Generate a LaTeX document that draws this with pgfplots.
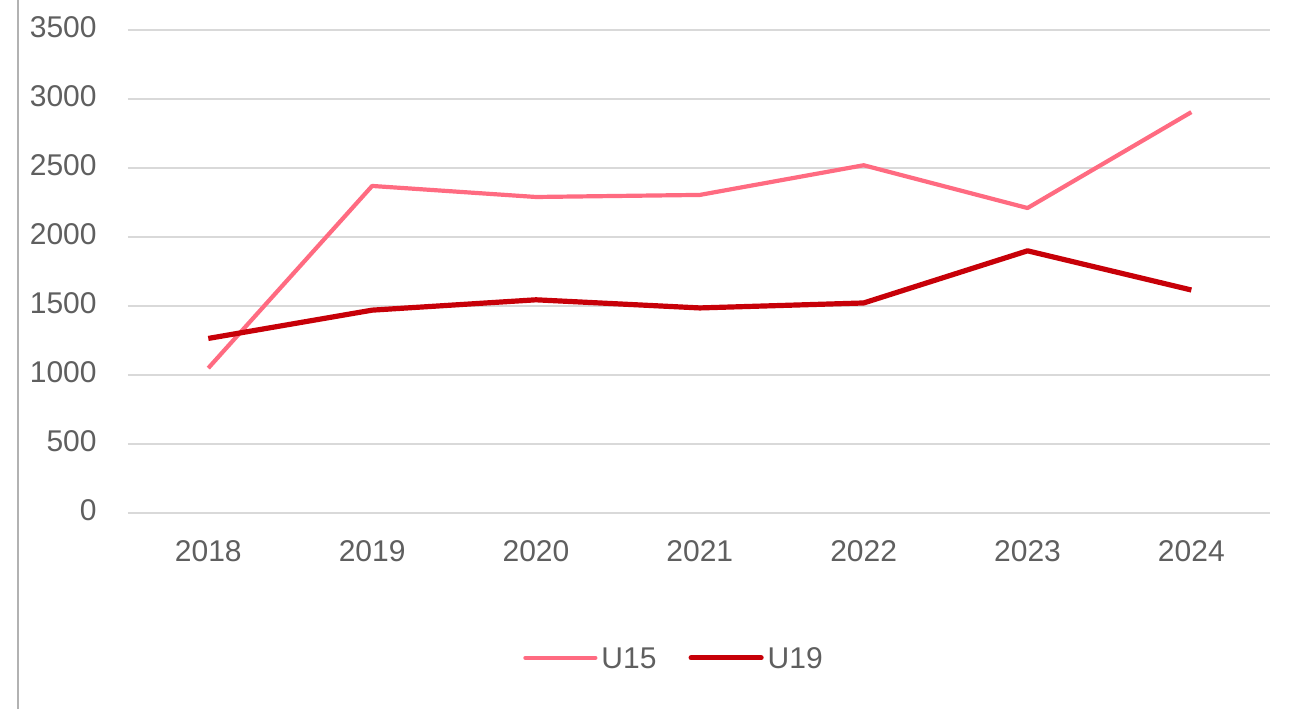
\documentclass[border=0pt]{standalone}
\usepackage{pgfplots}
\pgfplotsset{compat=1.18}
\usepackage{fontspec}
\setmainfont{Liberation Sans}
\definecolor{uone}{HTML}{FF6B81}
\definecolor{utwo}{HTML}{C70008}
\definecolor{txt}{HTML}{5F5F5F}
\definecolor{grid}{HTML}{D9D9D9}
\begin{document}
\begin{tikzpicture}
\path[use as bounding box] (-64pt,-98pt) rectangle (587.5pt,256.5pt);
\draw[color=black!30, line width=1pt] (-55pt,-98pt) -- (-55pt,256.5pt);
\begin{axis}[
  at={(0pt,0pt)}, anchor=south west,
  scale only axis, width=571pt, height=241.5pt,
  xmin=-0.49, xmax=6.48, ymin=0, ymax=3500,
  xtick={0,1,2,3,4,5,6},
  xticklabels={2018,2019,2020,2021,2022,2023,2024},
  ytick={0,500,1000,1500,2000,2500,3000,3500},
  axis line style={draw=none},
  tick style={draw=none},
  ymajorgrids, xmajorgrids=false,
  grid style={color=grid, line width=0.75pt},
  /pgf/number format/assume math mode=true,
  /pgf/number format/1000 sep={},
  ticklabel style={font=\fontsize{15}{18}\selectfont, text=txt},
  yticklabel style={anchor=east, inner sep=0pt, xshift=-15.5pt, yshift=1.5pt},
  xticklabel style={anchor=north, inner sep=0pt, yshift=-13.5pt},
  legend style={at={(0.479,-0.304)}, anchor=center, draw=none, fill=none,
    font=\fontsize{15}{18}\selectfont, text=txt, legend columns=2,
    /tikz/every even column/.append style={column sep=14pt},
    inner sep=0pt},
  legend image code/.code={\draw[#1, line cap=round] (0pt,1pt) -- (35pt,1pt);},
  legend cell align=left,
]
\addplot[color=uone, line width=2.1pt, line join=round] coordinates {
  (0,1050) (1,2370) (2,2290) (3,2305) (4,2520) (5,2210) (6,2905)};
\addlegendentry{U15}
\addplot[color=utwo, line width=2.6pt, line join=round] coordinates {
  (0,1265) (1,1470) (2,1545) (3,1486) (4,1522) (5,1900) (6,1616)};
\addlegendentry{U19}
\end{axis}
\end{tikzpicture}
\end{document}
